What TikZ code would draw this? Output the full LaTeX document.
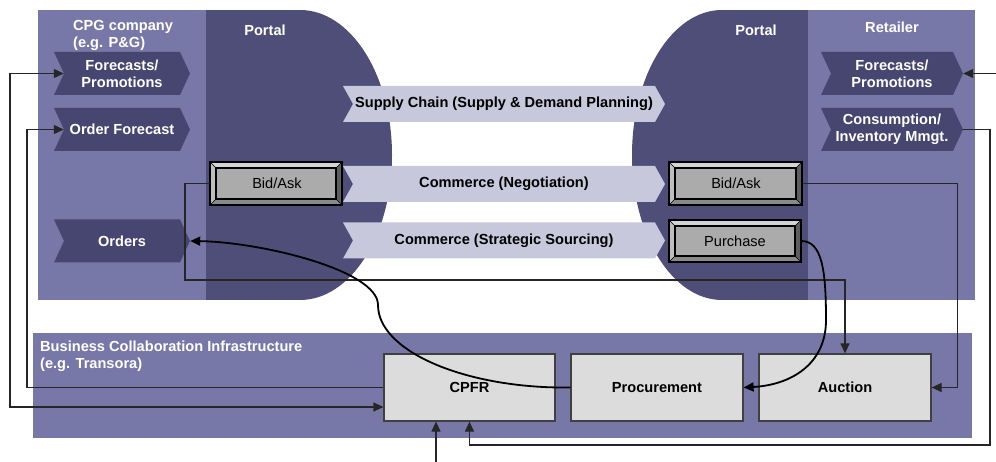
\documentclass[tikz,border=0pt]{standalone}
\usepackage{fontspec}
\setmainfont{Liberation Sans}
\usetikzlibrary{arrows.meta}

\definecolor{panel}{HTML}{7878A8}
\definecolor{portal}{HTML}{4E4E78}
\definecolor{chevdark}{HTML}{464670}
\definecolor{chevlight}{HTML}{C8C8DC}
\definecolor{boxfill}{HTML}{DCDCDC}
\definecolor{bevtop}{HTML}{D4D4D4}
\definecolor{bevleft}{HTML}{BEBEBE}
\definecolor{bevright}{HTML}{5E5E5E}
\definecolor{bevbottom}{HTML}{8A8A8A}
\definecolor{bevface}{HTML}{ABABAB}

% bevelled push-button: corners (x0,y0) and (x1,y1)
\newcommand{\bevelbox}[4]{%
  \fill[bevtop] (#1,#2) -- (#3,#2) -- (#3-6,#2+6) -- (#1+6,#2+6) -- cycle;
  \fill[bevleft] (#1,#2) -- (#1+6,#2+6) -- (#1+6,#4-6) -- (#1,#4) -- cycle;
  \fill[bevright] (#3,#2) -- (#3,#4) -- (#3-6,#4-6) -- (#3-6,#2+6) -- cycle;
  \fill[bevbottom] (#1,#4) -- (#3,#4) -- (#3-6,#4-6) -- (#1+6,#4-6) -- cycle;
  \draw[line width=0.5] (#1,#2) -- (#1+6,#2+6) (#3,#2) -- (#3-6,#2+6)
        (#1,#4) -- (#1+6,#4-6) (#3,#4) -- (#3-6,#4-6);
  \draw[line width=2.2, fill=bevface] (#1+6,#2+6) rectangle (#3-6,#4-6);
  \draw[line width=2] (#1,#2) rectangle (#3,#4);
}

\begin{document}
\begin{tikzpicture}[x=1pt,y=-1pt,
  font=\fontsize{14.6}{17}\selectfont\bfseries,
  chevd/.style={minimum height=43, inner sep=0, text=white, align=center,
    path picture={\fill[chevdark]
      (path picture bounding box.north west)
      -- ([xshift=-10pt]path picture bounding box.north east)
      -- (path picture bounding box.east)
      -- ([xshift=-10pt]path picture bounding box.south east)
      -- (path picture bounding box.south west)
      -- ([xshift=10pt]path picture bounding box.west) -- cycle;}},
  chevl/.style={minimum width=322, minimum height=36, inner sep=0, text=black,
    path picture={\fill[chevlight]
      (path picture bounding box.north west)
      -- ([xshift=-10pt]path picture bounding box.north east)
      -- (path picture bounding box.east)
      -- ([xshift=-10pt]path picture bounding box.south east)
      -- (path picture bounding box.south west)
      -- ([xshift=10pt]path picture bounding box.west) -- cycle;}},
  btntext/.style={inner sep=0, minimum width=133, minimum height=43, font=\fontsize{14.6}{17}\selectfont},
  box/.style={draw=black!75, line width=1.2, fill=boxfill, minimum height=67, inner sep=0},
  wlabel/.style={text=white, inner sep=0, align=left},
  link/.style={draw=black!85, line width=1.2},
  curve/.style={draw=black, line width=1.8},
  tip/.style={-{Triangle[length=10pt,width=9pt]}},
  tips/.style={{Triangle[length=10pt,width=9pt]}-{Triangle[length=10pt,width=9pt]}}
]
\useasboundingbox (0,0) rectangle (996,462);

% side panels and portals
\fill[panel] (38,10) rectangle (206,300);
\fill[portal] (206,10) rectangle (300,300);
\fill[portal] (300,155) ellipse [x radius=92pt, y radius=145pt];
\fill[portal] (722,10) rectangle (808,300);
\fill[portal] (722,155) ellipse [x radius=90pt, y radius=145pt];
\fill[panel] (808,10) rectangle (975,300);

% infrastructure band
\fill[panel] (33,333) rectangle (972,438);

% titles
\node[wlabel, anchor=north west] (cpg) at (73,20) {CPG company\\(e.g. P\&G)};
\node[wlabel] (portalL) at (265,30) {Portal};
\node[wlabel] (portalR) at (756,30) {Portal};
\node[wlabel] (retailer) at (892,27) {Retailer};
\node[wlabel, anchor=north west] (bci) at (40,341) {Business Collaboration Infrastructure\\(e.g. Transora)};

% CPG company chevrons
\node[chevd, minimum width=136] (fcL) at (122,73.5) {Forecasts/\\Promotions};
\node[chevd, minimum width=136] (ofc) at (122,129.5) {Order Forecast};
\node[chevd, minimum width=136] (orders) at (122,241) {Orders};

% Retailer chevrons
\node[chevd, minimum width=142] (fcR) at (892,73.5) {Forecasts/\\Promotions};
\node[chevd, minimum width=142] (cons) at (892,129.5) {Consumption/\\Inventory Mmgt.};

% portal-to-portal channels
\node[chevl] (sc) at (504,104) {Supply Chain (Supply \& Demand Planning)};
\node[chevl] (neg) at (504,184) {Commerce (Negotiation)};
\node[chevl] (src) at (504,240.5) {Commerce (Strategic Sourcing)};

% buttons
\bevelbox{210}{162}{342}{205}
\bevelbox{669}{162}{802}{205}
\bevelbox{669}{220}{801}{262}
\node[btntext] (bidL) at (277,183.5) {Bid/Ask};
\node[btntext] (bidR) at (736,183.5) {Bid/Ask};
\node[btntext, minimum width=132, minimum height=42] (purch) at (735,241) {Purchase};

% infrastructure services
\node[box, minimum width=171] (cpfr) at (469.5,387.5) {CPFR};
\node[box, minimum width=172] (proc) at (657,387.5) {Procurement};
\node[box, minimum width=172] (auc) at (845,387.5) {Auction};

% connectors
\draw[link, tips] ([xshift=10pt]fcL.west) -| (10,407) -- ([yshift=-19.5pt]cpfr.west);
\draw[link, tip] (cpfr.west) -- (27,387.5) |- ([xshift=10pt]ofc.west);
\draw[link, tip] (bidL.west) -| (185,280) -| (auc.north);
\draw[link, tip] (bidR.east) -| ([xshift=26pt]auc.east) -- (auc.east);
\draw[link, tip] (cons.east) -| (990,445) -| (cpfr.south);
\coordinate (inR) at (996,73.5);
\draw[link, tip] (inR) -- (fcR.east);
\coordinate (inB) at (436,462);
\draw[link, tip] (inB) -- (inB |- cpfr.south);

\draw[curve, tip] (purch.east) .. controls (822,241) and (826,270) .. (826,320)
  .. controls (826,365) and (790,385) .. (proc.east);
\draw[curve, tip] (proc.west) -- ([xshift=-12pt]proc.west)
  .. controls (460,386) and (378,350) .. (378,305)
  .. controls (378,270) and (260,242) .. (orders.east);
\end{tikzpicture}
\end{document}
